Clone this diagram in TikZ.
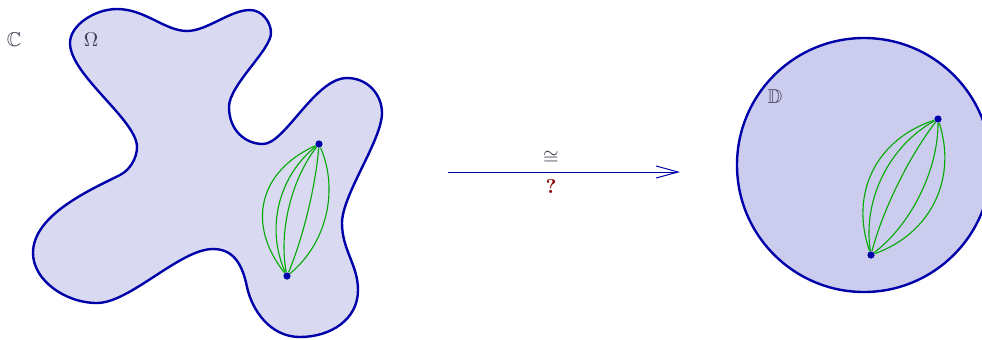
\documentclass[tikz,border=0pt]{standalone}
\usepackage{amssymb}
\usetikzlibrary{calc,arrows.meta}

\definecolor{regionfill}{RGB}{217,217,242}
\definecolor{diskfill}{RGB}{204,204,238}
\definecolor{edgeblue}{RGB}{0,0,170}
\definecolor{geogreen}{RGB}{0,170,0}
\definecolor{qred}{RGB}{136,0,0}
\definecolor{labelgray}{RGB}{60,60,80}

\begin{document}
\begin{tikzpicture}[x=0.5pt,y=-0.5pt,
  every node/.style={font=\normalsize},
  boundary/.style={draw=edgeblue,line width=1.2pt},
  pt/.style={circle,fill=edgeblue,inner sep=0pt,minimum size=3.6pt},
  geo/.style={draw=geogreen,line width=0.55pt},
  lbl/.style={text=labelgray,inner sep=0pt},
  >={Straight Barb[length=11pt,width=6pt]}
]
\useasboundingbox (0,0) rectangle (982,339);

% DOMAIN
\draw[boundary,fill=regionfill] (70,43)
  .. controls (70,25) and (95,9) .. (117,9)
  .. controls (145,9) and (165,31) .. (187,31)
  .. controls (207,31) and (230,10) .. (250,10)
  .. controls (262,10) and (271,22) .. (271,33)
  .. controls (271,50) and (229,85) .. (229,107)
  .. controls (229,130) and (245,144) .. (263,144)
  .. controls (285,144) and (315,78) .. (347,78)
  .. controls (368,78) and (382,95) .. (382,113)
  .. controls (382,140) and (342,195) .. (342,223)
  .. controls (342,250) and (358,265) .. (358,290)
  .. controls (358,320) and (330,337) .. (300,337)
  .. controls (270,337) and (252,310) .. (247,287)
  .. controls (242,262) and (232,249) .. (213,249)
  .. controls (180,249) and (130,303) .. (97,303)
  .. controls (65,303) and (33,280) .. (33,253)
  .. controls (33,215) and (90,190) .. (120,175)
  .. controls (130,170) and (137,158) .. (137,147)
  .. controls (137,120) and (70,75) .. (70,43) -- cycle;

\node[lbl] (C) at (14,40) {$\mathbb{C}$};
\node[lbl] (Om) at (91,40) {$\Omega$};

% DISK
\draw[boundary,fill=diskfill] (864,165) circle[radius=127];
\node[lbl] (D) at (775,97) {$\mathbb{D}$};

% POINTS
\node[pt] (a1) at (287,276) {};
\node[pt] (b1) at (319,144) {};
\node[pt] (a2) at (871,255) {};
\node[pt] (b2) at (938,119) {};

% CURVES
\foreach \d in {26,16,9.3,-3.3,-15.3}
  \draw[geo] (a1) .. controls ($(a1)!0.3!(b1)!\d pt!90:(b1)$)
    and ($(a1)!0.7!(b1)!\d pt!90:(b1)$) .. (b1);
\foreach \d in {23.3,16,4.7,-11.3,-22}
  \draw[geo] (a2) .. controls ($(a2)!0.3!(b2)!\d pt!90:(b2)$)
    and ($(a2)!0.7!(b2)!\d pt!90:(b2)$) .. (b2);

% MAP
\coordinate (mapL) at (448,172);
\coordinate (mapR) at (680,172);
\draw[->,draw=edgeblue,line width=0.5pt] (mapL) --
  node[above,pos=0.444,text=labelgray] {$\cong$}
  node[below,pos=0.444,text=qred] {\textbf{?}} (mapR);

\end{tikzpicture}
\end{document}
